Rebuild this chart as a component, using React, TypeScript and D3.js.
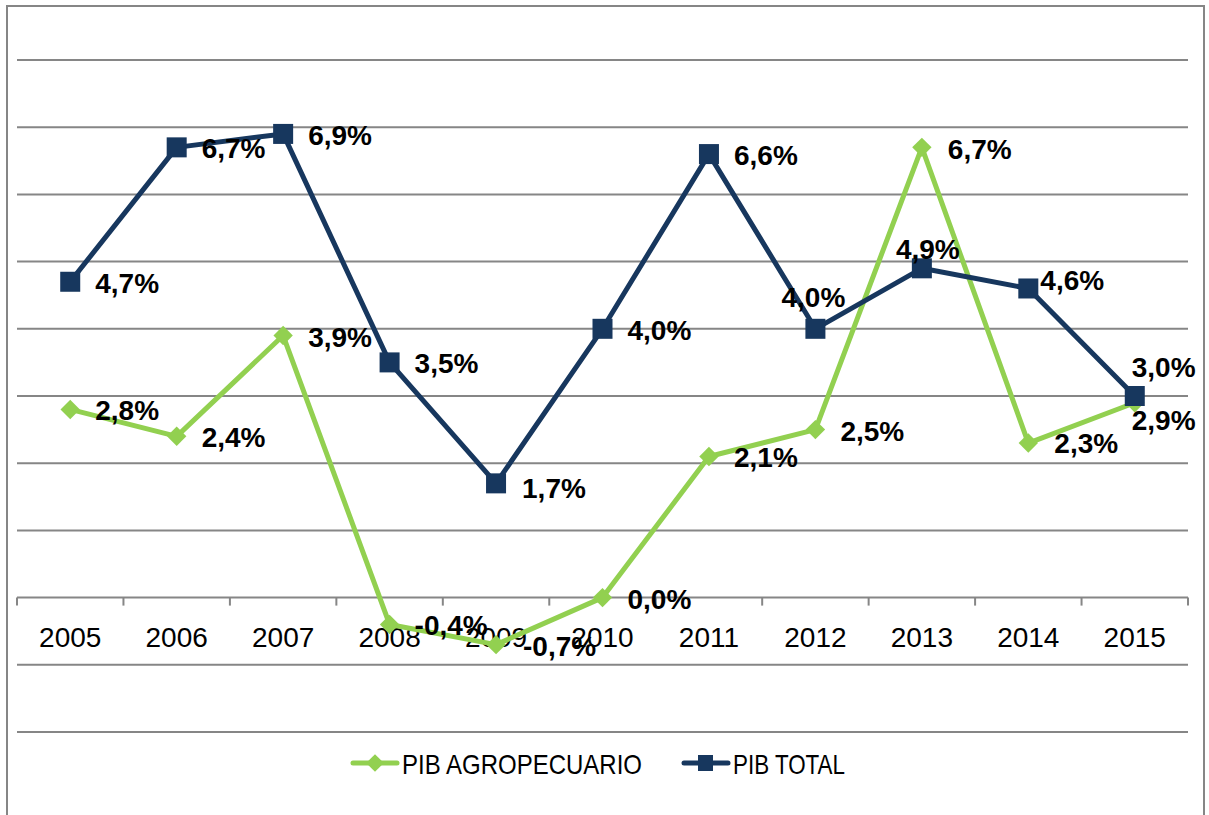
import React from "react";
import * as d3 from "d3";

const years = ["2005", "2006", "2007", "2008", "2009", "2010", "2011", "2012", "2013", "2014", "2015"];
const pibAgro = [2.8, 2.4, 3.9, -0.4, -0.7, 0.0, 2.1, 2.5, 6.7, 2.3, 2.9];
const pibTotal = [4.7, 6.7, 6.9, 3.5, 1.7, 4.0, 6.6, 4.0, 4.9, 4.6, 3.0];
const gridTicks = [-2, -1, 0, 1, 2, 3, 4, 5, 6, 7, 8];
const seriesNames = ["PIB AGROPECUARIO", "PIB TOTAL"];

const GREEN = "#92D050";
const NAVY = "#17375E";
const GRID = "#868686";

// label offsets (dx, dy from point; anchor)
const agroLabelPos: [number, number, string][] = [
  [25, 11, "start"], [25, 11, "start"], [25, 11, "start"], [25, 11, "start"], [27, 11, "start"],
  [25, 11, "start"], [25, 11, "start"], [25, 11, "start"], [26, 12, "start"], [26, 10, "start"], [-3, 27, "start"],
];
const totalLabelPos: [number, number, string][] = [
  [25, 11, "start"], [25, 11, "start"], [25, 11, "start"], [25, 11, "start"], [26, 15, "start"],
  [25, 11, "start"], [25, 11, "start"], [-2, -22, "middle"], [6, -9, "middle"], [12, 2, "start"], [-3, -19, "start"],
];

const fmt = (v: number) => v.toFixed(1).replace(".", ",") + "%";

export default function App() {
  const x = d3.scaleBand<string>().domain(years).range([17, 1188]).padding(0);
  const y = d3.scaleLinear().domain([-2, 8]).range([732, 60]);
  const cx = (i: number) => (x(years[i]) as number) + x.bandwidth() / 2;

  const line = d3
    .line<number>()
    .x((_, i) => cx(i))
    .y((d) => y(d));

  const diamond = d3.symbol().type(d3.symbolDiamond2).size(240)();

  const labelStyle: React.CSSProperties = {
    fontFamily: "'Liberation Sans', Arial, sans-serif",
    fontWeight: 700,
    fontSize: 28,
    fill: "#000",
  };

  return (
    <div style={{ position: "absolute", left: 0, top: 0 }}>
      <svg width={1209} height={815} style={{ display: "block", background: "#fff" }}>
        <rect x={7} y={6} width={1197} height={830} fill="#fff" stroke={GRID} strokeWidth={2} />
        {gridTicks.map((t) => (
          <line key={t} x1={17} x2={1188} y1={y(t)} y2={y(t)} stroke={GRID} strokeWidth={2} />
        ))}
        {/* category tick marks */}
        {years.map((yr) => (
          <line key={"t" + yr} x1={x(yr) as number} x2={x(yr) as number} y1={y(0)} y2={y(0) + 8} stroke={GRID} strokeWidth={2} />
        ))}
        <line x1={1188} x2={1188} y1={y(0)} y2={y(0) + 8} stroke={GRID} strokeWidth={2} />
        {/* axis labels */}
        {years.map((yr, i) => (
          <text
            key={"l" + yr}
            x={cx(i)}
            y={647}
            textAnchor="middle"
            style={{ fontFamily: "'Liberation Sans', Arial, sans-serif", fontSize: 28, fill: "#000" }}
          >
            {yr}
          </text>
        ))}
        {/* lines */}
        <path d={line(pibAgro) || ""} fill="none" stroke={GREEN} strokeWidth={5} strokeLinejoin="round" />
        <path d={line(pibTotal) || ""} fill="none" stroke={NAVY} strokeWidth={5} strokeLinejoin="round" />
        {pibAgro.map((v, i) => (
          <path key={"a" + i} d={diamond || ""} transform={`translate(${cx(i)},${y(v)})`} fill={GREEN} />
        ))}
        {pibTotal.map((v, i) => (
          <rect key={"s" + i} x={cx(i) - 10} y={y(v) - 10} width={20} height={20} fill={NAVY} />
        ))}
        {/* data labels */}
        {pibTotal.map((v, i) => (
          <text key={"tl" + i} x={cx(i) + totalLabelPos[i][0]} y={y(v) + totalLabelPos[i][1]} textAnchor={totalLabelPos[i][2] as any} style={labelStyle}>
            {fmt(v)}
          </text>
        ))}
        {pibAgro.map((v, i) => (
          <text key={"al" + i} x={cx(i) + agroLabelPos[i][0]} y={y(v) + agroLabelPos[i][1]} textAnchor={agroLabelPos[i][2] as any} style={labelStyle}>
            {fmt(v)}
          </text>
        ))}
        {/* legend */}
        <line x1={353} x2={397} y1={763} y2={763} stroke={GREEN} strokeWidth={5} strokeLinecap="round" />
        <path d={d3.symbol().type(d3.symbolDiamond2).size(200)() || ""} transform="translate(375,763)" fill={GREEN} />
        <text x={402} y={774} textLength={240} lengthAdjust="spacingAndGlyphs" style={{ fontFamily: "'Liberation Sans', Arial, sans-serif", fontSize: 28, fill: "#000" }}>
          {seriesNames[0]}
        </text>
        <line x1={684} x2={728} y1={763} y2={763} stroke={NAVY} strokeWidth={5} strokeLinecap="round" />
        <rect x={698} y={755} width={15} height={16} fill={NAVY} />
        <text x={733} y={774} textLength={112} lengthAdjust="spacingAndGlyphs" style={{ fontFamily: "'Liberation Sans', Arial, sans-serif", fontSize: 28, fill: "#000" }}>
          {seriesNames[1]}
        </text>
      </svg>
    </div>
  );
}
